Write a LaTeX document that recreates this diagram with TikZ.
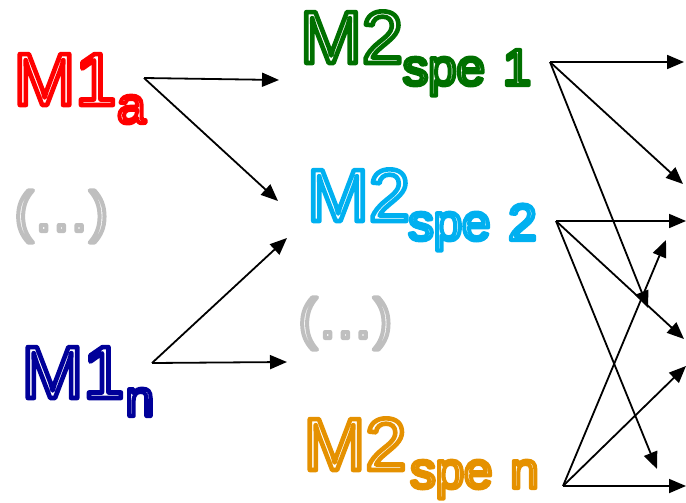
\documentclass[tikz,border=0pt]{standalone}
\usepackage{fontspec}
\setmainfont{Liberation Sans}
\usetikzlibrary{arrows.meta}

% Hollow lettering: white fill, coloured stroke round every glyph.
% #1 = stroke width, #2 = stroke colour as "r g b", #3 = text
\newcommand\hollowtext[3]{%
  \special{pdf:literal direct 2 Tr #2 RG 1 1 1 rg #1 w 1 j}#3%
  \special{pdf:literal direct 0 Tr 0 0 0 RG 0 0 0 rg}}
\newcommand\bigword[2]{\hollowtext{4.6}{#1}{#2}}
\newcommand\subword[2]{\hollowtext{4.0}{#1}{#2}}

\tikzset{
  bigtxt/.style={inner sep=0pt, anchor=base west, font=\fontsize{74}{74}\selectfont},
  subtxt/.style={inner sep=0pt, anchor=base west, font=\fontsize{51}{51}\selectfont,
    execute at begin node={\spaceskip=18pt\relax}},
  gaptxt/.style={inner sep=0pt, anchor=base west, font=\fontsize{56}{56}\selectfont},
  link/.style={-{Triangle[length=17pt,width=14pt]}, line width=1.8pt, black}
}

\begin{document}
\begin{tikzpicture}[x=1pt,y=-1pt]
\useasboundingbox (0,0) rectangle (686,503);

% first-level labels
\node[bigtxt] (m1a) at (13.5,105) {\bigword{1 0 0}{M1}};
\node[subtxt] (m1asub) at (117,123) {\subword{1 0 0}{a}};
\node[gaptxt] (gapA) at (14.5,231) {\subword{0.75 0.75 0.75}{(…)}};
\node[bigtxt] (m1n) at (21.5,398) {\bigword{0 0 0.6}{M1}};
\node[subtxt] (m1nsub) at (125.5,416) {\subword{0 0 0.6}{n}};

% second-level labels
\node[bigtxt] (m2s1) at (300,63) {\bigword{0 0.44 0}{M2}};
\node[subtxt] (m2s1sub) at (402.5,85) {\subword{0 0.44 0}{spe 1}};
\node[bigtxt] (m2s2) at (307,221) {\bigword{0 0.69 0.94}{M2}};
\node[subtxt] (m2s2sub) at (408,240) {\subword{0 0.69 0.94}{spe 2}};
\node[gaptxt] (gapB) at (298.5,338) {\subword{0.75 0.75 0.75}{(…)}};
\node[bigtxt] (m2sn) at (303.5,470) {\bigword{0.9 0.57 0}{M2}};
\node[subtxt] (m2snsub) at (410,488) {\subword{0.9 0.57 0}{spe n}};

% connector origins
\coordinate (oa) at (144,78);
\coordinate (on) at (152,363);
\coordinate (o1) at (550,62);
\coordinate (o2) at (556,221);
\coordinate (o3) at (563,486);

% connector targets
\coordinate (ta1) at (279,80);
\coordinate (ta2) at (278,201);
\coordinate (tn1) at (287,238);
\coordinate (tn2) at (287,362);
\coordinate (t11) at (684,62);
\coordinate (t12) at (683,184);
\coordinate (t13) at (648,308);
\coordinate (t21) at (686,221);
\coordinate (t22) at (684,339);
\coordinate (t23) at (657,469);
\coordinate (t31) at (686,486);
\coordinate (t32) at (666,240);
\coordinate (t33) at (686,366);

\draw[link] (oa) -- (ta1);
\draw[link] (oa) -- (ta2);
\draw[link] (on) -- (tn1);
\draw[link] (on) -- (tn2);
\draw[link] (o1) -- (t11);
\draw[link] (o1) -- (t12);
\draw[link] (o1) -- (t13);
\draw[link] (o2) -- (t21);
\draw[link] (o2) -- (t22);
\draw[link] (o2) -- (t23);
\draw[link] (o3) -- (t31);
\draw[link] (o3) -- (t32);
\draw[link] (o3) -- (t33);
\end{tikzpicture}
\end{document}
